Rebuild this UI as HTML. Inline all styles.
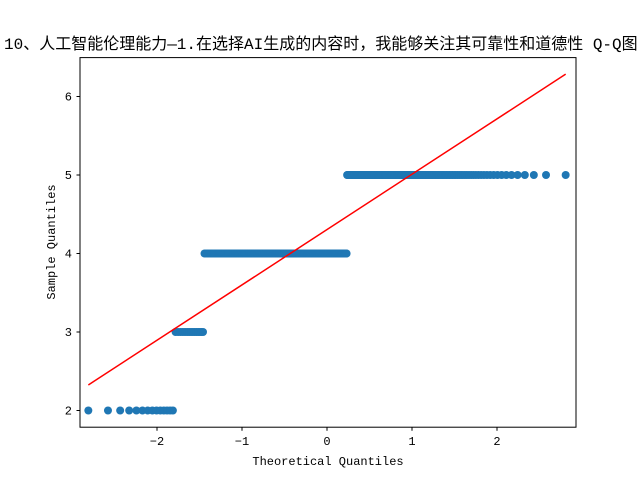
<!DOCTYPE html>
<html><head><meta charset="utf-8"><style>
body{margin:0;background:#fff;width:640px;height:480px;overflow:hidden}
svg text{font-family:"Liberation Mono","WenQuanYi Zen Hei",monospace}
</style></head><body>
<svg id="c" width="640" height="480">
<rect x="0" y="0" width="640" height="480" fill="#fff"/>
<text x="4" y="49" font-size="16" fill="#000">10、人工智能伦理能力—1.在选择AI生成的内容时，我能够关注其可靠性和道德性 Q-Q图</text>
<g id="plot"></g>
<rect x="80" y="57.6" width="496" height="369.6" fill="none" stroke="#000" stroke-width="1"/>
<text x="328" y="465" font-size="12" text-anchor="middle">Theoretical Quantiles</text>
<text transform="translate(55,242) rotate(-90)" font-size="12" text-anchor="middle">Sample Quantiles</text>
</svg>
<script>
const levels=[2,3,4,5];
const counts=[14,15,208,163];
const xTicks=[-2,-1,0,1,2];
const yTicks=[2,3,4,5,6];
const fitLine={slope:0.705,intercept:4.305};
const NS="http://www.w3.org/2000/svg";
const xs=v=>327+v*85, ys=v=>410.5-(v-2)*78.5;
function ppf(p){const a=[-39.6968302866538,220.946098424521,-275.928510446969,138.357751867269,-30.6647980661472,2.50662827745924],b=[-54.4760987982241,161.585836858041,-155.698979859887,66.8013118877197,-13.2806815528857],c=[-0.00778489400243029,-0.322396458041136,-2.40075827716184,-2.54973253934373,4.37466414146497,2.93816398269878],d=[0.00778469570904146,0.32246712907004,2.445134137143,3.75440866190742];let q,r;
if(p<0.02425){q=Math.sqrt(-2*Math.log(p));return(((((c[0]*q+c[1])*q+c[2])*q+c[3])*q+c[4])*q+c[5])/((((d[0]*q+d[1])*q+d[2])*q+d[3])*q+1);}
if(p>1-0.02425){q=Math.sqrt(-2*Math.log(1-p));return-(((((c[0]*q+c[1])*q+c[2])*q+c[3])*q+c[4])*q+c[5])/((((d[0]*q+d[1])*q+d[2])*q+d[3])*q+1);}
q=p-0.5;r=q*q;return(((((a[0]*r+a[1])*r+a[2])*r+a[3])*r+a[4])*r+a[5])*q/(((((b[0]*r+b[1])*r+b[2])*r+b[3])*r+b[4])*r+1);}
const g=document.getElementById('plot');
const svg=document.getElementById('c');
const n=counts.reduce((s,v)=>s+v,0);
let i=0;let tmin=0,tmax=0;
levels.forEach((lv,k)=>{for(let j=0;j<counts[k];j++){i++;const t=ppf(i/(n+1));if(i==1)tmin=t;tmax=t;
const el=document.createElementNS(NS,'circle');
el.setAttribute('cx',xs(t));el.setAttribute('cy',ys(lv));el.setAttribute('r',4);el.setAttribute('fill','#1f77b4');


g.appendChild(el);}});
const ln=document.createElementNS(NS,'line');
ln.setAttribute('x1',xs(tmin));ln.setAttribute('y1',ys(fitLine.intercept+fitLine.slope*tmin));
ln.setAttribute('x2',xs(tmax));ln.setAttribute('y2',ys(fitLine.intercept+fitLine.slope*tmax));
ln.setAttribute('stroke','red');ln.setAttribute('stroke-width',1.5);


g.appendChild(ln);
xTicks.forEach(v=>{const x=xs(v);
const t=document.createElementNS(NS,'line');t.setAttribute('x1',x);t.setAttribute('x2',x);t.setAttribute('y1',427.2);t.setAttribute('y2',430.7);t.setAttribute('stroke','#000');


svg.appendChild(t);
const l=document.createElementNS(NS,'text');l.setAttribute('x',x);l.setAttribute('y',445);l.setAttribute('font-size',12);l.setAttribute('text-anchor','middle');l.textContent=v<0?'−'+(-v):v;


svg.appendChild(l);});
yTicks.forEach(v=>{const y=ys(v);
const t=document.createElementNS(NS,'line');t.setAttribute('x1',76.5);t.setAttribute('x2',80);t.setAttribute('y1',y);t.setAttribute('y2',y);t.setAttribute('stroke','#000');


svg.appendChild(t);
const l=document.createElementNS(NS,'text');l.setAttribute('x',72);l.setAttribute('y',y+4);l.setAttribute('font-size',12);l.setAttribute('text-anchor','end');l.textContent=v;


svg.appendChild(l);});
</script>
</body></html>
